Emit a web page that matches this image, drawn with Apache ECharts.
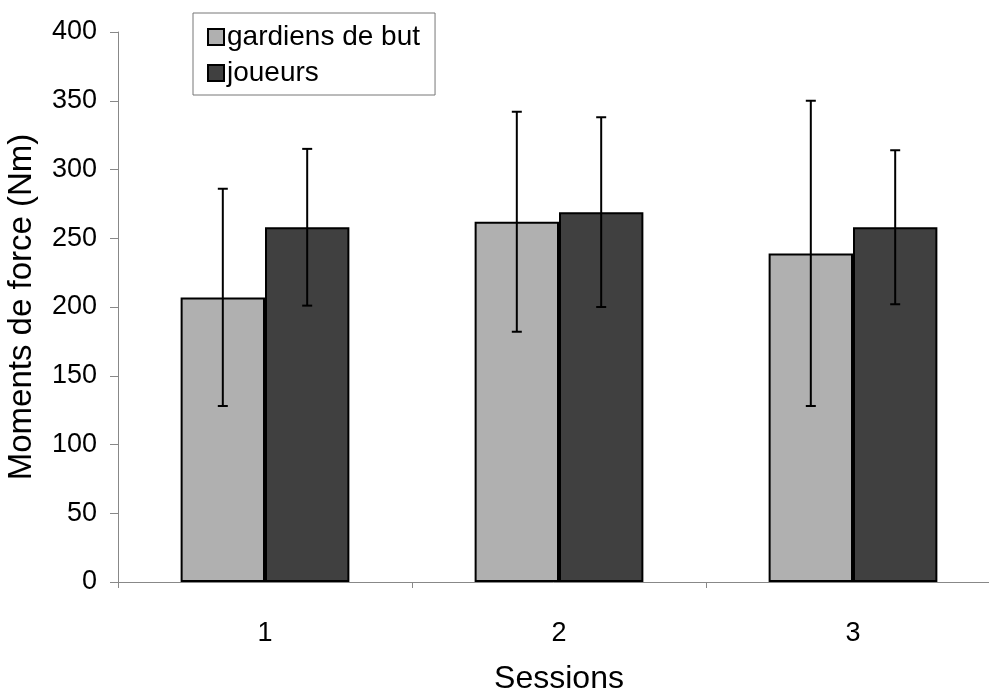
<!DOCTYPE html>
<html>
<head>
<meta charset="utf-8">
<script src="https://cdn.jsdelivr.net/npm/echarts@6/dist/echarts.min.js"></script>
<style>
  html, body { margin: 0; padding: 0; background: #fff; }
  #chart { width: 989px; height: 696px; }
</style>
</head>
<body>
<div id="chart"></div>
<script>
// donnees
var sessions = ['1', '2', '3'];
var gardiensMoy = [207, 262, 239];
var gardiensET = [79, 80, 111];
var joueursMoy = [258, 269, 258];
var joueursET = [57, 69, 56];

var BAR_RATIO = 0.287; // largeur d'une barre / largeur de la categorie
var font = 'Liberation Sans, Arial, sans-serif';

function errData(moy, et) {
    var out = [];
    for (var i = 0; i < moy.length; i++) {
        out.push([i, moy[i], et[i]]);
    }
    return out;
}

function errRenderer(side) {
    return function(params, api) {
        var idx = api.value(0);
        var m = api.value(1);
        var sd = api.value(2);
        var band = api.size([1, 0])[0];
        var bw = band * BAR_RATIO;
        var cx = api.coord([idx, m])[0] + side * bw / 2;
        var yTop = api.coord([idx, m + sd])[1];
        var yBot = api.coord([idx, m - sd])[1];
        var cap = 5;
        var st = { stroke: '#000', lineWidth: 2 };
        return {
            type: 'group',
            children: [
                { type: 'line', shape: { x1: cx, y1: yTop, x2: cx, y2: yBot }, style: st },
                { type: 'line', shape: { x1: cx - cap, y1: yTop, x2: cx + cap, y2: yTop }, style: st },
                { type: 'line', shape: { x1: cx - cap, y1: yBot, x2: cx + cap, y2: yBot }, style: st }
            ]
        };
    };
}

var myChart = echarts.init(document.getElementById('chart'));
myChart.setOption({
    animation: false,
    backgroundColor: '#fff',
    textStyle: { fontFamily: font },
    grid: {
        left: 118,
        right: -11,
        top: 32,
        bottom: 114,
        containLabel: false,
        outerBoundsMode: 'none'
    },
    legend: {
        orient: 'vertical',
        left: 193,
        top: 13,
        padding: [10, 15, 8, 14],
        itemGap: 8,
        itemWidth: 16,
        itemHeight: 16,
        icon: 'rect',
        borderColor: '#777',
        borderWidth: 1,
        textStyle: { fontSize: 28, color: '#000', fontFamily: font, padding: [0, 0, 0, -2] },
        data: ['gardiens de but', 'joueurs']
    },
    xAxis: {
        type: 'category',
        data: sessions,
        name: 'Sessions',
        nameLocation: 'middle',
        nameGap: 81,
        nameMoveOverlap: false,
        nameTextStyle: { fontSize: 32, color: '#000', fontFamily: font },
        axisLine: { lineStyle: { color: '#888', width: 1 } },
        axisTick: { show: true, length: 6, lineStyle: { color: '#888' } },
        axisLabel: { fontSize: 27, color: '#000', margin: 38 },
        splitLine: { show: false }
    },
    yAxis: {
        type: 'value',
        min: 0,
        max: 400,
        interval: 50,
        name: 'Moments de force (Nm)',
        nameLocation: 'middle',
        nameGap: 80,
        nameMoveOverlap: false,
        nameTextStyle: { fontSize: 33, color: '#000', fontFamily: font },
        axisLine: { show: true, lineStyle: { color: '#888', width: 1 } },
        axisTick: { show: true, length: 8, lineStyle: { color: '#888' } },
        axisLabel: { fontSize: 27, color: '#000', margin: 21 },
        splitLine: { show: false }
    },
    series: [
        {
            name: 'gardiens de but',
            type: 'bar',
            barWidth: (BAR_RATIO * 100) + '%',
            barGap: '0%',
            data: gardiensMoy,
            itemStyle: { color: '#b0b0b0', borderColor: '#000', borderWidth: 2 }
        },
        {
            name: 'joueurs',
            type: 'bar',
            barWidth: (BAR_RATIO * 100) + '%',
            barGap: '0%',
            data: joueursMoy,
            itemStyle: { color: '#404040', borderColor: '#000', borderWidth: 2 }
        },
        {
            type: 'custom',
            name: 'et gardiens',
            renderItem: errRenderer(-1),
            data: errData(gardiensMoy, gardiensET),
            z: 10,
            silent: true
        },
        {
            type: 'custom',
            name: 'et joueurs',
            renderItem: errRenderer(1),
            data: errData(joueursMoy, joueursET),
            z: 10,
            silent: true
        }
    ]
});
</script>
</body>
</html>
